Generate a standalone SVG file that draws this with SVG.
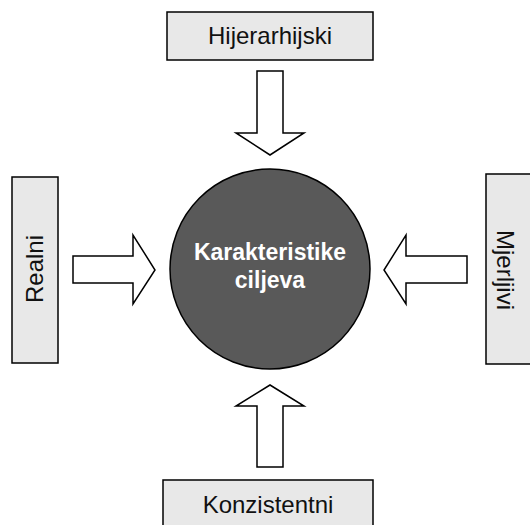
<svg xmlns="http://www.w3.org/2000/svg" width="530" height="525" viewBox="0 0 530 525">
<style>
.box{fill:#e8e8e8;stroke:#000;stroke-width:1.5}
.lbl{font-family:"Liberation Sans",Arial,sans-serif;font-size:24px;fill:#111;text-anchor:middle}
.arr{fill:#fff;stroke:#000;stroke-width:1.5;stroke-linejoin:miter}
.ctr{font-family:"Liberation Sans",Arial,sans-serif;font-size:23px;font-weight:bold;fill:#fff;text-anchor:middle}
</style>
<rect width="530" height="525" fill="#fff"/>
<g id="connectors">
<polygon class="arr" points="257,71 283,71 283,133 304,133 270,155 236,133 257,133"/>
<polygon class="arr" points="257,467 283,467 283,406 304,406 270,385 236,406 257,406"/>
<polygon class="arr" points="73,256 133,256 133,235 155,270 133,304 133,283 73,283"/>
<polygon class="arr" points="467,256 406,256 406,235 384,270 406,304 406,283 467,283"/>
</g>
<g id="center">
<circle cx="270" cy="269" r="100" fill="#595959" stroke="#000" stroke-width="1.5"/>
<text class="ctr" x="270" y="260">Karakteristike</text>
<text class="ctr" x="270" y="288">ciljeva</text>
</g>
<g id="hijerarhijski">
<rect class="box" x="167" y="12" width="206" height="48"/>
<text class="lbl" x="270" y="44">Hijerarhijski</text>
</g>
<g id="konzistentni">
<rect class="box" x="163" y="480" width="210" height="60"/>
<text class="lbl" x="268" y="513">Konzistentni</text>
</g>
<g id="realni">
<rect class="box" x="12" y="177" width="46" height="186"/>
<text class="lbl" transform="translate(43,269) rotate(-90)">Realni</text>
</g>
<g id="mjerljivi">
<rect class="box" x="486" y="174" width="60" height="190"/>
<text class="lbl" transform="translate(497,270) rotate(90)">Mjerljivi</text>
</g>
</svg>
